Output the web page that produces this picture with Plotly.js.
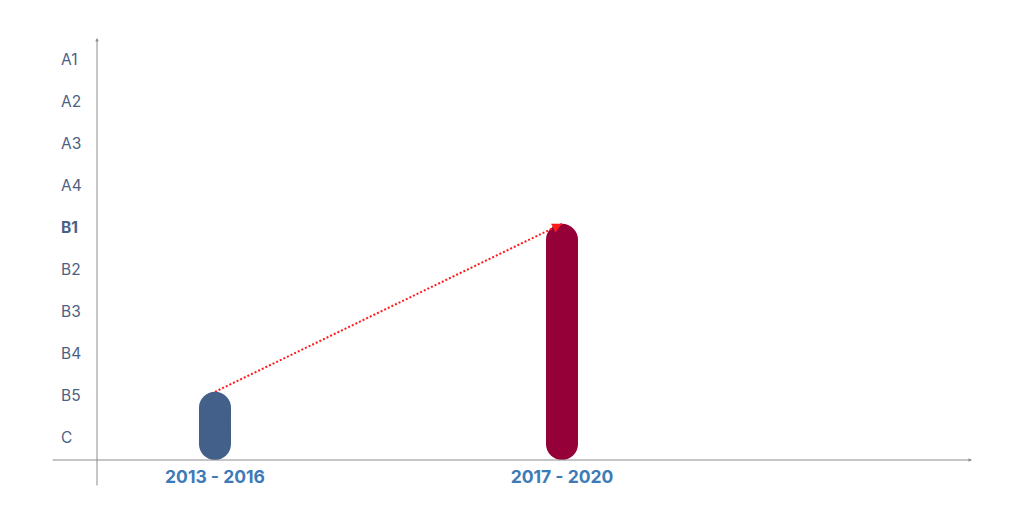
<!DOCTYPE html>
<html>
<head>
<meta charset="utf-8">
<script src="https://cdn.plot.ly/plotly-3.0.1.min.js"></script>
<style>html,body{margin:0;padding:0;background:#fff;}#chart{width:1024px;height:512px;}</style>
</head>
<body>
<div id="chart"></div>
<script>
// ---- data ----
const periods = ["2013 - 2016", "2017 - 2020"];
const levelLabels = ["C", "B5", "B4", "B3", "B2", "B1", "A4", "A3", "A2", "A1"];
const periodLevels = ["B5", "B1"];
const highlightLevel = "B1";
const pillColors = ["#43608a", "#950039"];

// ---- layout geometry ----
const W = 1024, H = 512;
const margin = {l: 51, r: 52, t: 38, b: 52};
const plotW = W - margin.l - margin.r;
const plotH = H - margin.t - margin.b;
const yRange = [-0.524, 9.524];
const xRange = [-0.4726, 2.1816];
const yPerPx = (yRange[1] - yRange[0]) / plotH;
const pillPx = 32;
const capOffset = 0.1;
const yAxisPaperX = 46 / plotW;

const levelIndex = periodLevels.map(l => levelLabels.indexOf(l));
const tops = levelIndex.map(v => v + capOffset);
const halfPill = (pillPx / 2) * yPerPx;
const bottomCenter = yRange[0] + halfPill;

const traces = periods.map((p, i) => ({
  type: 'scatter',
  mode: 'lines+markers',
  x: [i, i],
  y: [bottomCenter, tops[i] - halfPill],
  line: {color: pillColors[i], width: pillPx},
  marker: {color: pillColors[i], size: pillPx, line: {width: 0}},
  hoverinfo: 'skip',
  showlegend: false
}));

traces.push({
  type: 'scatter',
  mode: 'lines',
  x: [0, 1],
  y: [tops[0], tops[1]],
  line: {color: '#ff1a1a', width: 2, dash: '2px,2px'},
  hoverinfo: 'skip',
  showlegend: false,
  cliponaxis: false
});

const tickText = levelLabels.map(l => l === highlightLevel ? '<b>' + l + '</b>' : l);

// arrowhead direction taken from the connector itself
const headBack = 0.02;
const slope = (tops[1] - tops[0]) / 1;

const layout = {
  width: W, height: H,
  margin: margin,
  paper_bgcolor: '#ffffff',
  plot_bgcolor: '#ffffff',
  font: {family: 'Inter, sans-serif'},
  xaxis: {
    range: xRange,
    tickvals: periods.map((p, i) => i),
    ticktext: periods,
    tickfont: {size: 17.5, color: '#3d7ab8', weight: 700},
    showgrid: false, zeroline: false, showline: false,
    ticks: 'outside', ticklen: 1, tickcolor: 'rgba(0,0,0,0)',
    fixedrange: true
  },
  yaxis: {
    range: yRange,
    tickvals: levelLabels.map((l, i) => i),
    ticktext: tickText,
    tickfont: {size: 15.5, color: '#4d5f84'},
    ticklabelposition: 'inside',
    ticklabelstandoff: 7,
    ticks: '',
    showgrid: false, zeroline: false, showline: false,
    fixedrange: true
  },
  annotations: [
    {xref: 'paper', yref: 'paper', x: yAxisPaperX, y: 1, ax: 0, ay: 449, axref: 'pixel', ayref: 'pixel',
     text: '', showarrow: true, arrowhead: 2, arrowsize: 0.7, arrowwidth: 1, arrowcolor: '#8c8c8c', standoff: 0},
    {xref: 'paper', yref: 'paper', x: 1, y: 0, ax: -plotW, ay: 0, axref: 'pixel', ayref: 'pixel',
     text: '', showarrow: true, arrowhead: 2, arrowsize: 0.7, arrowwidth: 1, arrowcolor: '#8c8c8c', standoff: 0},
    {xref: 'x', yref: 'y', x: 1, y: tops[1], axref: 'x', ayref: 'y', ax: 1 - headBack, ay: tops[1] - slope * headBack,
     text: '', showarrow: true, arrowhead: 2, arrowsize: 1.3, arrowwidth: 1.5, arrowcolor: '#ff1a1a', standoff: 0}
  ]
};

Plotly.newPlot('chart', traces, layout, {displayModeBar: false, staticPlot: true});
</script>
</body>
</html>
